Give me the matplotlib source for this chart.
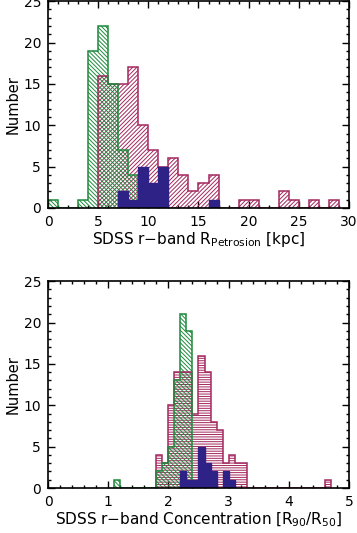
import numpy as np
import matplotlib
matplotlib.use('Agg')
import matplotlib.pyplot as plt
from matplotlib.ticker import MultipleLocator

# ---- data ----
# top panel: Petrosian radius, 1 kpc bins from 0 to 30
rp_edges = np.arange(0, 31, 1)
rp_green_left = [0, 3, 4, 5, 6, 7, 8]
rp_green_n = [1, 1, 19, 22, 15, 7, 4]
rp_red_left = [5, 6, 7, 8, 9, 10, 11, 12, 13, 14, 15, 16, 19, 20, 23, 24, 26, 28]
rp_red_n = [16, 15, 15, 17, 10, 7, 5, 6, 4, 2, 3, 4, 1, 1, 2, 1, 1, 1]
rp_blue_left = [7, 8, 9, 10, 11, 16]
rp_blue_n = [2, 1, 5, 3, 5, 1]

# bottom panel: concentration, 0.1 bins from 0 to 5
cc_edges = np.round(np.arange(0, 5.01, 0.1), 1)
cc_green_left = [1.1, 1.8, 1.9, 2.0, 2.1, 2.2, 2.3]
cc_green_n = [1, 2, 3, 5, 13, 21, 19]
cc_red_left = [1.8, 1.9, 2.0, 2.1, 2.2, 2.3, 2.4, 2.5, 2.6, 2.7, 2.8, 2.9, 3.0, 3.1, 3.2, 4.6]
cc_red_n = [4, 3, 10, 14, 14, 14, 9, 16, 14, 8, 7, 3, 4, 3, 3, 1]
cc_blue_left = [2.2, 2.3, 2.4, 2.5, 2.6, 2.7, 2.9, 3.0]
cc_blue_n = [2, 1, 1, 5, 3, 2, 2, 1]

green = '#1e8a3c'
red = '#a3285e'
blue = '#2e2287'

plt.rcParams['font.family'] = 'DejaVu Sans'
plt.rcParams['mathtext.default'] = 'regular'
plt.rcParams['hatch.linewidth'] = 0.7


def full_counts(edges, left, n):
    # put the nonzero bins into a full array over all bins
    c = np.zeros(len(edges) - 1)
    idx = np.searchsorted(np.round(edges, 1), np.round(left, 1))
    c[idx] = n
    return c


def draw_hist(ax, edges, left, n, color, hatch=None, solid=False):
    c = full_counts(edges, left, n)
    nz = np.nonzero(c)[0]
    i0, i1 = nz[0], nz[-1] + 1
    e = edges[i0:i1 + 1]
    v = c[i0:i1]
    w = edges[1] - edges[0]
    if solid:
        ax.bar(e[:-1], v, width=w, align='edge', color=color, linewidth=0, zorder=5)
        ax.stairs(v, e, color=color, linewidth=1.0, zorder=5)
    else:
        ax.bar(e[:-1], v, width=w, align='edge', fill=False, hatch=hatch,
               edgecolor=color, linewidth=0, zorder=2)
        ax.stairs(v, e, color=color, linewidth=1.1, zorder=3)


def style_axes(ax, xmax, xmajor, xminor, xlabel):
    ax.set_xlim(0, xmax)
    ax.set_ylim(0, 25)
    ax.xaxis.set_major_locator(MultipleLocator(xmajor))
    ax.xaxis.set_minor_locator(MultipleLocator(xminor))
    ax.yaxis.set_major_locator(MultipleLocator(5))
    ax.yaxis.set_minor_locator(MultipleLocator(1))
    ax.tick_params(which='both', direction='in', top=True, right=True,
                   labelsize=10, width=1.0, pad=5)
    ax.tick_params(which='major', length=5)
    ax.tick_params(which='minor', length=2.5)
    for s in ax.spines.values():
        s.set_linewidth(1.2)
        s.set_zorder(10)
    ax.set_ylabel('Number', fontsize=10.5, labelpad=2)
    ax.set_xlabel(xlabel, fontsize=11, labelpad=1)


fig = plt.figure(figsize=(3.57, 5.33), dpi=100)
ax1 = fig.add_axes([0.1345, 0.6098, 0.843, 0.388])
ax2 = fig.add_axes([0.1345, 0.0844, 0.843, 0.388])

draw_hist(ax1, rp_edges, rp_red_left, rp_red_n, red, hatch='/' * 8)
draw_hist(ax1, rp_edges, rp_green_left, rp_green_n, green, hatch='\\' * 8)
draw_hist(ax1, rp_edges, rp_blue_left, rp_blue_n, blue, solid=True)
style_axes(ax1, 30, 5, 1, 'SDSS r\u2212band R$_{Petrosion}$ [kpc]')

draw_hist(ax2, cc_edges, cc_red_left, cc_red_n, red, hatch='-' * 7)
draw_hist(ax2, cc_edges, cc_green_left, cc_green_n, green, hatch='\\' * 8)
draw_hist(ax2, cc_edges, cc_blue_left, cc_blue_n, blue, solid=True)
style_axes(ax2, 5, 1, 0.2, 'SDSS r\u2212band Concentration [R$_{90}$/R$_{50}$]')

fig.savefig('out.png', dpi=100)
